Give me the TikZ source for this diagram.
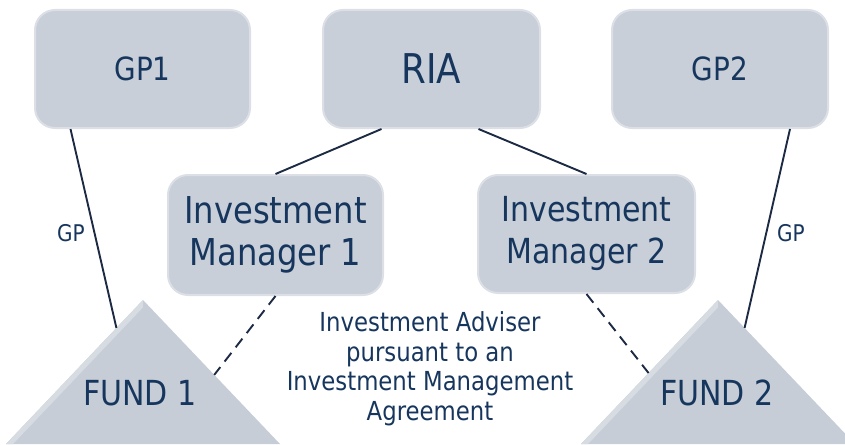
\documentclass[tikz,border=0pt]{standalone}
\usepackage{fontspec}
\setmainfont{DejaVu Sans}[FakeStretch=0.87]
\usetikzlibrary{calc}
\definecolor{boxfill}{HTML}{C8CFD9}
\definecolor{boxedge}{HTML}{DCE0E6}
\definecolor{ink}{HTML}{17365D}
\definecolor{wire}{HTML}{1C2A44}
\definecolor{fundfill}{HTML}{C6CDD7}
\definecolor{fundlight}{HTML}{D7DCE3}
\begin{document}
\begin{tikzpicture}[x=1pt,y=-1pt,
  party/.style={draw=boxedge,line width=2pt,fill=boxfill,rounded corners=20pt,
    text=ink,inner sep=0pt,align=center},
  link/.style={draw=wire,line width=1.9pt},
  advise/.style={link,dash pattern=on 11pt off 7pt},
  fundtext/.style={text=ink,font=\fontsize{34.5}{40}\selectfont},
  gplabel/.style={text=ink,font=\fontsize{23}{26}\selectfont},
  note/.style={text=ink,align=center,font=\fontsize{26.2}{29.5}\selectfont}]
\useasboundingbox (0,0) rectangle (845,444);

% the two funds, cut off by the lower edge
\begin{scope}
  \clip (0,0) rectangle (845,444);
  \coordinate (f1top) at (143,300);
  \coordinate (f1l) at (6,444);
  \coordinate (f1r) at (280,444);
  \coordinate (f2top) at (718,300);
  \coordinate (f2l) at (581,444);
  \coordinate (f2r) at (855,444);
  \fill[fundfill] (f1top) -- (f1l) -- (f1r) -- cycle;
  \fill[fundlight] (f1top) -- (f1l) -- ($(f1l)+(7,0)$) -- ($(f1top)+(0,7.4)$) -- cycle;
  \fill[fundfill] (f2top) -- (f2l) -- (f2r) -- cycle;
  \fill[fundlight] (f2top) -- (f2l) -- ($(f2l)+(7,0)$) -- ($(f2top)+(0,7.4)$) -- cycle;
\end{scope}
\node[fundtext] (fund1) at (140,393) {FUND 1};
\node[fundtext] (fund2) at (717,393) {FUND 2};

% boxes
\node[party,minimum width=215pt,minimum height=118pt,font=\fontsize{32}{38}\selectfont]
  (gp1) at (142.5,69) {GP1};
\node[party,minimum width=217pt,minimum height=118pt,font=\fontsize{41}{46}\selectfont]
  (ria) at (431.5,69) {RIA};
\node[party,minimum width=216pt,minimum height=118pt,font=\fontsize{32}{38}\selectfont]
  (gp2) at (720,69) {GP2};
\node[party,minimum width=215pt,minimum height=120pt,font=\fontsize{37}{42}\selectfont]
  (im1) at (275.5,235) {Investment\\Manager 1};
\node[party,minimum width=217pt,minimum height=118pt,font=\fontsize{34.5}{42}\selectfont]
  (im2) at (586.5,234) {Investment\\Manager 2};

% connectors
\draw[link] ([xshift=-50pt]ria.south) -- (im1.north);
\draw[link] ([xshift=47pt]ria.south) -- (im2.north);
\draw[link] ([xshift=-72pt]gp1.south) -- ($(f1top)!0.194!(f1l)$);
\draw[link] ([xshift=70pt]gp2.south) -- ($(f2top)!0.194!(f2r)$);
\draw[advise] (im1.south) -- ($(f1top)!0.52!(f1r)$);
\draw[advise] (im2.south) -- ($(f2top)!0.507!(f2l)$);

% labels
\node[gplabel] (gpl1) at (71,233) {GP};
\node[gplabel] (gpl2) at (791,233) {GP};
\node[note] (ima) at (430,369)
  {Investment Adviser\\pursuant to an\\Investment Management\\Agreement};
\end{tikzpicture}
\end{document}
